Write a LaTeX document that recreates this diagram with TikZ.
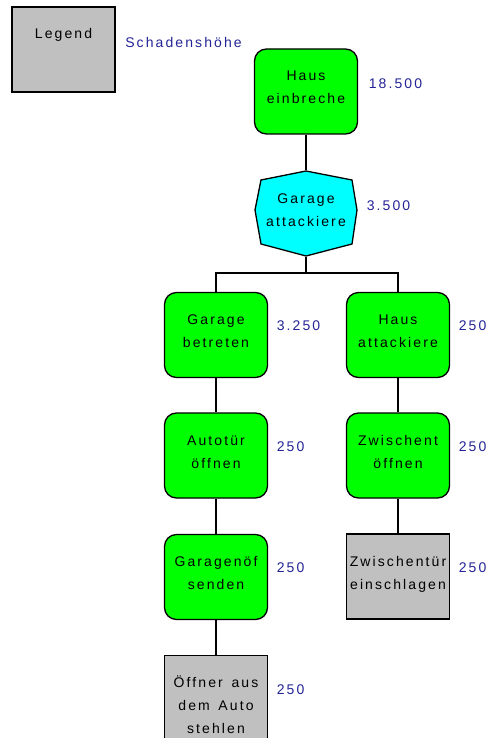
\documentclass[tikz,border=0pt]{standalone}
\usepackage{fontspec}
\setmainfont{Liberation Sans}[LetterSpace=15]
\usetikzlibrary{positioning}
\definecolor{stepgreen}{RGB}{0,255,0}
\definecolor{orcyan}{RGB}{0,255,255}
\definecolor{leafgray}{RGB}{192,192,192}
\definecolor{valblue}{RGB}{36,36,150}
\tikzset{
  treebox/.style={draw=black, minimum width=103pt, minimum height=85pt, inner sep=0pt,
    text width=103pt, align=center, text height=32pt, text depth=53pt,
    font=\fontsize{14}{23}\selectfont},
  greenbox/.style={treebox, fill=stepgreen, rounded corners=12pt},
  graybox/.style={treebox, fill=leafgray},
  valnode/.style={text=valblue, inner sep=0pt, font=\fontsize{14}{15}\selectfont},
}
\begin{document}
\begin{tikzpicture}[x=1pt, y=-1pt, line width=1.3pt]
% attack tree, y runs downwards
\useasboundingbox (0,0) rectangle (492,738);
% Legend
\node[graybox] (legend) at (63.5,49.5) {Legend};
\node[valnode, right=9pt of legend.north east, yshift=-36pt] (legendval) {Schadenshöhe};
% Root
\node[greenbox] (hausein) at (306,91.5) {Haus\\einbreche};
% OR node as octagon
\filldraw[fill=orcyan] (306,171) -- (352,180) -- (357,210) -- (352,244) -- (306,256)
  -- (261,244) -- (255,210) -- (261,180) -- cycle;
\node[treebox, draw=none] (garatt) at (306,213.5) {Garage\\attackiere};
% Left branch
\node[greenbox] (garbet) at (216,335) {Garage\\betreten};
\node[greenbox] (autotuer) at (216,455.5) {Autotür\\öffnen};
\node[greenbox] (garsend) at (216,577) {Garagenöf\\senden};
\node[graybox] (oeffner) at (216,698) {Öffner\hspace{4pt} aus\\dem\hspace{4pt} Auto\\stehlen};
% Right branch
\node[greenbox] (hausatt) at (398,335) {Haus\\attackiere};
\node[greenbox] (zwoeff) at (398,455.5) {Zwischent\\öffnen};
\node[graybox] (zwschl) at (398,576.5) {Zwischentür\\einschlagen};
% Values
\node[valnode, right=10pt of hausein.north east, yshift=-35pt] (v1) {18.500};
\node[valnode, right=8pt of garatt.north east, yshift=-35pt] (v2) {3.500};
\node[valnode, right=8pt of garbet.north east, yshift=-34pt] (v3) {3.250};
\node[valnode, right=8pt of hausatt.north east, yshift=-34pt] (v4) {250};
\node[valnode, right=8pt of autotuer.north east, yshift=-34pt] (v5) {250};
\node[valnode, right=8pt of zwoeff.north east, yshift=-34pt] (v6) {250};
\node[valnode, right=8pt of garsend.north east, yshift=-34pt] (v7) {250};
\node[valnode, right=8pt of zwschl.north east, yshift=-34pt] (v8) {250};
\node[valnode, right=8pt of oeffner.north east, yshift=-35pt] (v9) {250};
% Connectors
\coordinate (split) at (306,273);
\draw (hausein.south) -- (garatt.north);
\draw (garatt.south) -- (split);
\draw (garbet.north) |- (split) -| (hausatt.north);
\draw (garbet.south) -- (autotuer.north);
\draw (autotuer.south) -- (garsend.north);
\draw (garsend.south) -- (oeffner.north);
\draw (hausatt.south) -- (zwoeff.north);
\draw (zwoeff.south) -- (zwschl.north);
\end{tikzpicture}
\end{document}
